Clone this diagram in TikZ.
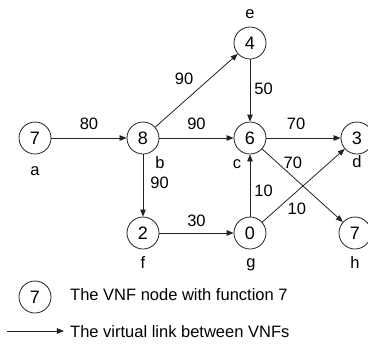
\documentclass[tikz,border=0pt]{standalone}
\usepackage{fontspec}
\setmainfont{Liberation Sans}
\usetikzlibrary{arrows.meta,positioning}
\definecolor{ink}{HTML}{222222}

\begin{document}
\begin{tikzpicture}[x=1pt,y=-1pt,font=\fontsize{16.5}{19}\selectfont,>={Triangle[length=7pt,width=5.5pt]},
  vnf/.style={draw=ink,circle,line width=0.8pt,minimum size=32pt,inner sep=0pt,
              font=\fontsize{18}{20}\selectfont},
  vlink/.style={->,draw=ink,line width=0.8pt},
  bw/.style={inner sep=1pt},
  tag/.style={inner sep=0pt,anchor=base}]
\useasboundingbox (0,0) rectangle (368,349);

% VNF nodes
\node[vnf] (a) at (35,138) {7};
\node[vnf] (b) at (143,138) {8};
\node[vnf] (c) at (250,138) {6};
\node[vnf] (d) at (357,138) {3};
\node[vnf] (e) at (250,43) {4};
\node[vnf] (f) at (143,233) {2};
\node[vnf] (g) at (250,233) {0};
\node[vnf] (h) at (355,233) {7};

% node names
\node[tag] (la) at (35,175) {a};
\node[tag] (lb) at (160,168) {b};
\node[tag] (lc) at (237,168) {c};
\node[tag] (ld) at (357,167) {d};
\node[tag] (le) at (250,18) {e};
\node[tag] (lf) at (143,268) {f};
\node[tag] (lg) at (251,267) {g};
\node[tag] (lh) at (355,268) {h};

% virtual links with bandwidth
\draw[vlink] (a) -- node[bw,above=7pt] {80} (b);
\draw[vlink] (b) -- node[bw,above=7pt] {90} (c);
\draw[vlink] (c) -- node[bw,above=7pt,pos=0.4] {70} (d);
\draw[vlink] (b) -- node[bw,above=15pt,pos=0.35] {90} (e);
\draw[vlink] (e) -- node[bw,right=3pt,pos=0.47] {50} (c);
\draw[vlink] (c) -- node[bw,above=7pt,pos=0.38] {70} (h);
\draw[vlink] (b) -- node[bw,right=6pt,pos=0.45] {90} (f);
\draw[vlink] (g) -- node[bw,right=3pt,pos=0.41] {10} (c);
\draw[vlink] (g) -- node[bw,below=10pt,pos=0.42] {10} (d);
\draw[vlink] (f) -- node[bw,above=5pt] {30} (g);

% legend
\node[vnf] (k) at (35,297) {7};
\node[tag,anchor=base west] (kt) at (70,300) {The VNF node with function 7};
\coordinate (p) at (7,331);
\coordinate (q) at (64,331);
\draw[vlink] (p) -- (q);
\node[tag,anchor=base west] (qt) at (70,337) {The virtual link between VNFs};
\end{tikzpicture}
\end{document}
